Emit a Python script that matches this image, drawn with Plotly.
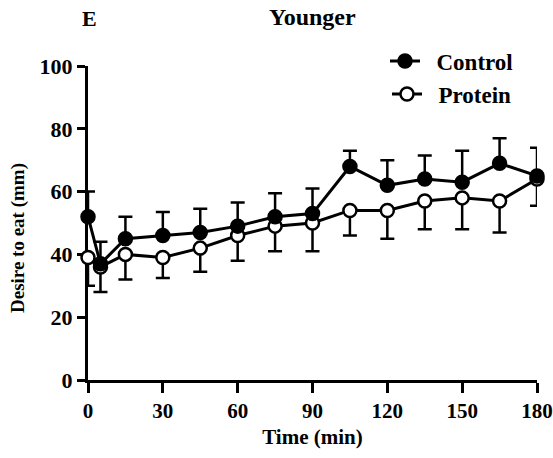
import plotly.graph_objects as go

time = [0, 5, 15, 30, 45, 60, 75, 90, 105, 120, 135, 150, 165, 180]
control = [52, 37, 45, 46, 47, 49, 52, 53, 68, 62, 64, 63, 69, 65]
control_sem = [8, 7, 7, 7.5, 7.5, 7.5, 7.5, 8, 5, 8, 7.5, 10, 8, 9]
protein = [39, 36, 40, 39, 42, 46, 49, 50, 54, 54, 57, 58, 57, 64]
protein_sem = [9, 8, 8, 6.5, 7.5, 8, 8, 9, 8, 9, 9, 10, 10, 8.5]
x_ticks = [0, 30, 60, 90, 120, 150, 180]
y_ticks = [0, 20, 40, 60, 80, 100]

FONT = "Liberation Serif"
NB = "\u00a0\u00a0"

L, R, T, B = 88, 16, 66, 78
W = 553 - L - R
H = 458 - T - B


def px_x(p):
    return (p - L) / W


def px_y(p):
    return (458 - B - p) / H


fig = go.Figure()
fig.add_trace(go.Scatter(
    x=time, y=protein, name=NB + "<b>Protein</b>", mode="lines+markers",
    line=dict(color="black", width=3),
    marker=dict(symbol="circle", size=13, color="white", line=dict(color="black", width=2.5)),
    error_y=dict(type="data", symmetric=False, array=[0] * len(time), arrayminus=protein_sem,
                 color="black", thickness=2.5, width=7),
    cliponaxis=False, legend="legend2",
))
fig.add_trace(go.Scatter(
    x=time, y=control, name=NB + "<b>Control</b>", mode="lines+markers",
    line=dict(color="black", width=3),
    marker=dict(symbol="circle", size=13, color="black", line=dict(color="black", width=2.5)),
    error_y=dict(type="data", symmetric=False, array=control_sem, arrayminus=[0] * len(time),
                 color="black", thickness=2.5, width=7),
    cliponaxis=False, legend="legend",
))

leg_common = dict(xanchor="left", yanchor="middle", bgcolor="rgba(0,0,0,0)", itemwidth=30,
                  font=dict(family=FONT, size=23, color="black"))

fig.update_layout(
    width=553, height=458,
    margin=dict(l=L, r=R, t=T, b=B, autoexpand=False),
    paper_bgcolor="white", plot_bgcolor="white",
    font=dict(family=FONT, color="black", size=20),
    showlegend=True,
    legend=dict(x=px_x(385), y=px_y(61), **leg_common),
    legend2=dict(x=px_x(387), y=px_y(94), **leg_common),
    annotations=[
        dict(text="<b>E</b>", x=px_x(89), y=px_y(18), xref="paper", yref="paper",
             xanchor="center", yanchor="middle",
             showarrow=False, font=dict(family=FONT, size=22, color="black")),
        dict(text="<b>Younger</b>", x=px_x(312), y=px_y(17), xref="paper", yref="paper",
             xanchor="center", yanchor="middle",
             showarrow=False, font=dict(family=FONT, size=24, color="black")),
        dict(text="<b>Desire to eat (mm)</b>", x=px_x(18), y=px_y(238), xref="paper", yref="paper",
             xanchor="center", yanchor="middle", textangle=-90,
             showarrow=False, font=dict(family=FONT, size=19, color="black")),
    ],
)

fig.update_xaxes(
    range=[0, 180], tickvals=x_ticks, ticktext=[f"<b>{v}</b>" for v in x_ticks],
    showgrid=False, zeroline=False, showline=True, linecolor="black", linewidth=3,
    ticks="outside", ticklen=10, tickwidth=3, tickcolor="black",
    tickfont=dict(family=FONT, size=21, color="black"), ticklabeloverflow="allow",
    title=dict(text="<b>Time (min)</b>", font=dict(family=FONT, size=21, color="black"), standoff=8),
    layer="below traces", automargin=False,
)
fig.update_yaxes(
    range=[0, 100], tickvals=y_ticks, ticktext=[f"<b>{v}</b>" for v in y_ticks],
    showgrid=False, zeroline=False, showline=True, linecolor="black", linewidth=3,
    ticks="outside", ticklen=8, tickwidth=3, tickcolor="black",
    tickfont=dict(family=FONT, size=22, color="black"), ticklabeloverflow="allow",
    layer="below traces", automargin=False,
)

fig.write_html("out.html")
